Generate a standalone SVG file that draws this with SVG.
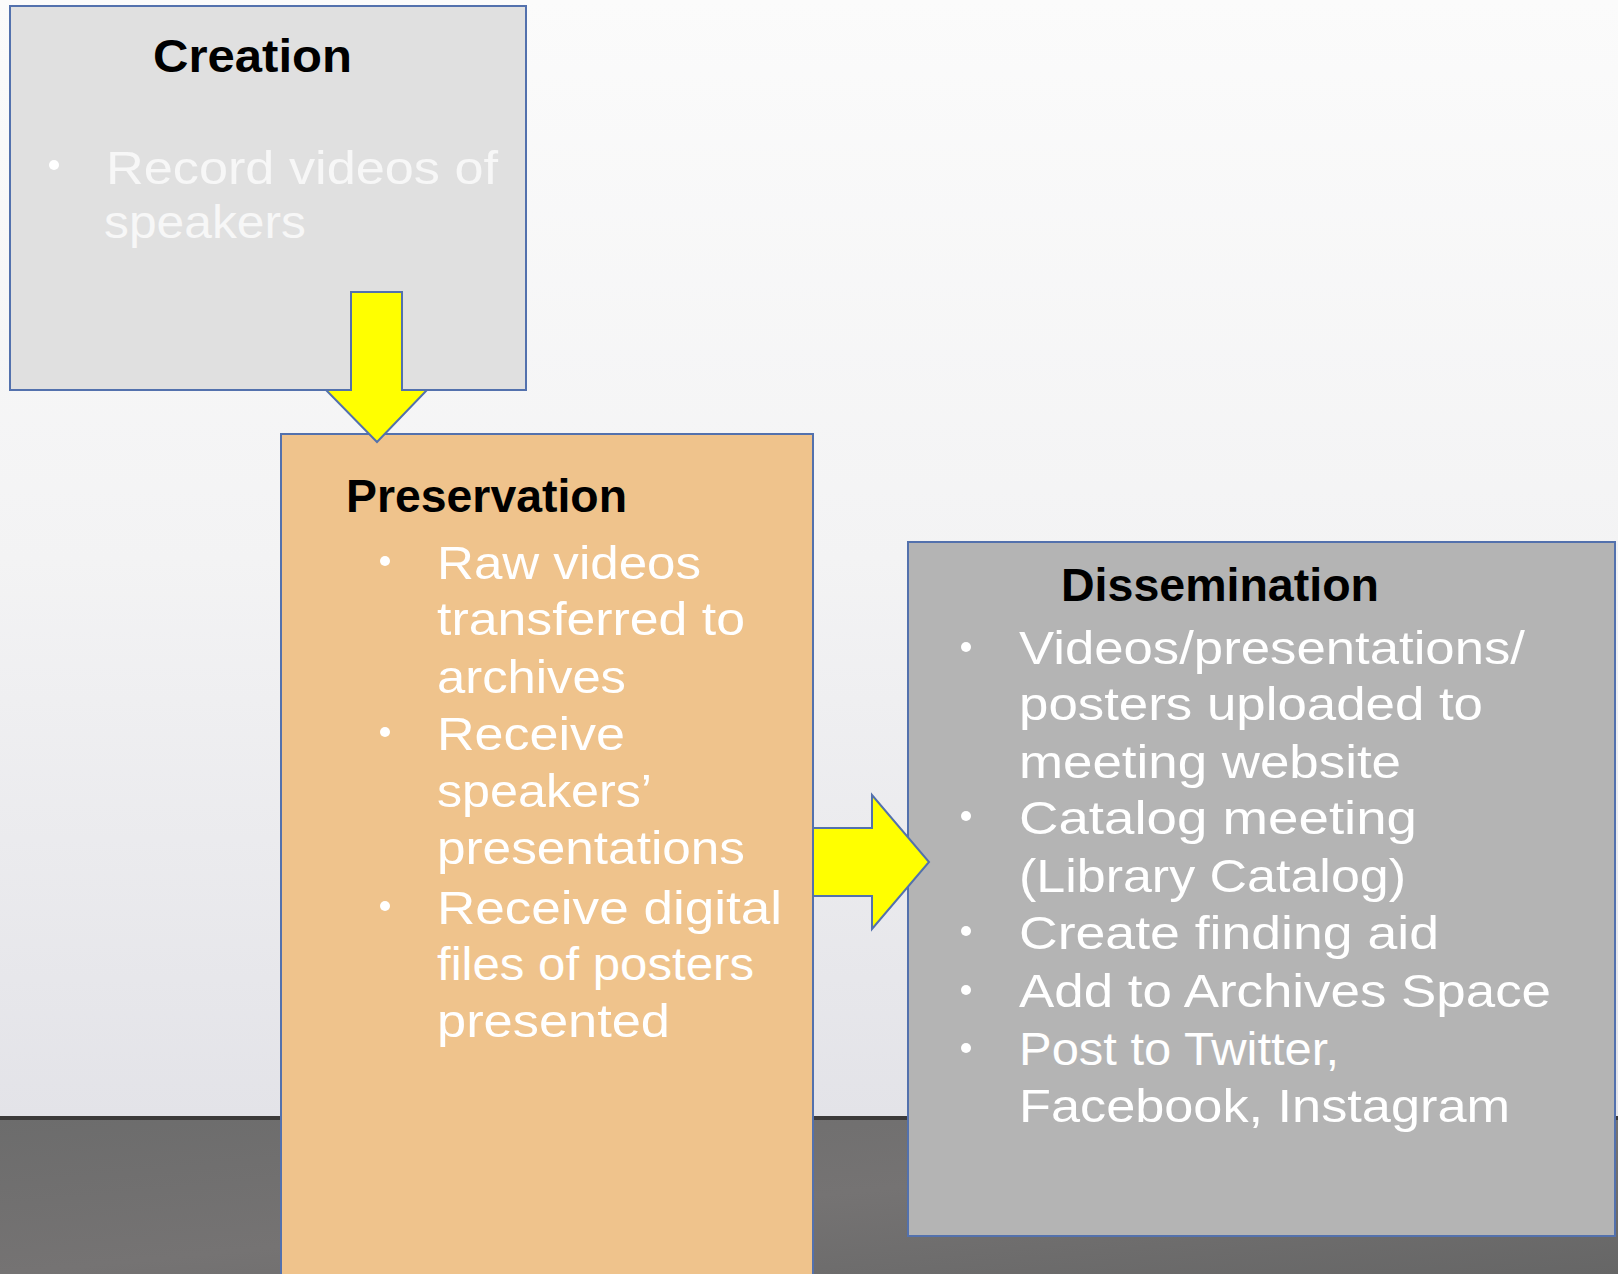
<svg xmlns="http://www.w3.org/2000/svg" width="1618" height="1274" viewBox="0 0 1618 1274">
  <defs>
    <linearGradient id="bg" x1="0" y1="0" x2="0" y2="1">
      <stop offset="0" stop-color="#fbfbfb"/>
      <stop offset="0.5" stop-color="#f3f3f4"/>
      <stop offset="1" stop-color="#e3e3e8"/>
    </linearGradient>
    <linearGradient id="floor" x1="0" y1="0" x2="1" y2="1">
      <stop offset="0" stop-color="#6c6c6c"/>
      <stop offset="0.5" stop-color="#757373"/>
      <stop offset="1" stop-color="#666666"/>
    </linearGradient>
    <style>
      .box { stroke: #5371ad; stroke-width: 2; }
      .arrow { fill: #ffff00; stroke: #5371ad; stroke-width: 2; stroke-linejoin: miter; }
      .title { font-family: "Liberation Sans", Arial, sans-serif; font-weight: bold; font-size: 46px; fill: #000000; }
      .body { font-family: "Liberation Sans", Arial, sans-serif; font-size: 46px; fill: #ffffff; }
      .faint { fill: #f7f7f7; }
      .bullet { fill: #ffffff; }
    </style>
  </defs>

  <!-- background -->
  <rect x="0" y="0" width="1618" height="1118" fill="url(#bg)"/>
  <rect x="0" y="1118" width="1618" height="156" fill="url(#floor)"/>
  <rect x="0" y="1116" width="1618" height="4" fill="#3c3a3a"/>

  <g id="creation">
    <rect class="box" x="10" y="6" width="516" height="384" fill="#e0e0e0"/>
    <text class="title" x="153" y="72" textLength="199" lengthAdjust="spacingAndGlyphs">Creation</text>
    <circle class="bullet faint" cx="54" cy="165" r="5"/>
    <text class="body faint" x="106" y="184" textLength="392" lengthAdjust="spacingAndGlyphs">Record videos of</text>
    <text class="body faint" x="104" y="238" textLength="202" lengthAdjust="spacingAndGlyphs">speakers</text>
  </g>

  <g id="preservation">
    <rect class="box" x="281" y="434" width="532" height="842" fill="#efc38c"/>
    <text class="title" x="346" y="512" textLength="281" lengthAdjust="spacingAndGlyphs">Preservation</text>
    <circle class="bullet" cx="385" cy="561" r="5"/>
    <text class="body" x="437" y="579" textLength="264" lengthAdjust="spacingAndGlyphs">Raw videos</text>
    <text class="body" x="437" y="635" textLength="308" lengthAdjust="spacingAndGlyphs">transferred to</text>
    <text class="body" x="437" y="693" textLength="189" lengthAdjust="spacingAndGlyphs">archives</text>
    <circle class="bullet" cx="385" cy="732" r="5"/>
    <text class="body" x="437" y="750" textLength="188" lengthAdjust="spacingAndGlyphs">Receive</text>
    <text class="body" x="437" y="807" textLength="215" lengthAdjust="spacingAndGlyphs">speakers’</text>
    <text class="body" x="437" y="864" textLength="308" lengthAdjust="spacingAndGlyphs">presentations</text>
    <circle class="bullet" cx="385" cy="906" r="5"/>
    <text class="body" x="437" y="924" textLength="345" lengthAdjust="spacingAndGlyphs">Receive digital</text>
    <text class="body" x="437" y="980" textLength="317" lengthAdjust="spacingAndGlyphs">files of posters</text>
    <text class="body" x="437" y="1037" textLength="233" lengthAdjust="spacingAndGlyphs">presented</text>
  </g>

  <g id="dissemination">
    <rect class="box" x="908" y="542" width="707" height="694" fill="#b4b4b4"/>
    <text class="title" x="1061" y="601" textLength="318" lengthAdjust="spacingAndGlyphs">Dissemination</text>
    <circle class="bullet" cx="966" cy="647" r="5"/>
    <text class="body" x="1019" y="664" textLength="506" lengthAdjust="spacingAndGlyphs">Videos/presentations/</text>
    <text class="body" x="1019" y="720" textLength="464" lengthAdjust="spacingAndGlyphs">posters uploaded to</text>
    <text class="body" x="1019" y="778" textLength="382" lengthAdjust="spacingAndGlyphs">meeting website</text>
    <circle class="bullet" cx="966" cy="816" r="5"/>
    <text class="body" x="1019" y="834" textLength="398" lengthAdjust="spacingAndGlyphs">Catalog meeting</text>
    <text class="body" x="1019" y="892" textLength="387" lengthAdjust="spacingAndGlyphs">(Library Catalog)</text>
    <circle class="bullet" cx="966" cy="931" r="5"/>
    <text class="body" x="1019" y="949" textLength="420" lengthAdjust="spacingAndGlyphs">Create finding aid</text>
    <circle class="bullet" cx="966" cy="990" r="5"/>
    <text class="body" x="1019" y="1007" textLength="532" lengthAdjust="spacingAndGlyphs">Add to Archives Space</text>
    <circle class="bullet" cx="966" cy="1048" r="5"/>
    <text class="body" x="1019" y="1065" textLength="320" lengthAdjust="spacingAndGlyphs">Post to Twitter,</text>
    <text class="body" x="1019" y="1122" textLength="491" lengthAdjust="spacingAndGlyphs">Facebook, Instagram</text>
  </g>

  <g id="connectors">
    <polygon class="arrow" points="351,292 402,292 402,390 427,390 377,442 326,390 351,390"/>
    <polygon class="arrow" points="813,828 872,828 872,795 929,862 872,929 872,896 813,896"/>
  </g>
</svg>
